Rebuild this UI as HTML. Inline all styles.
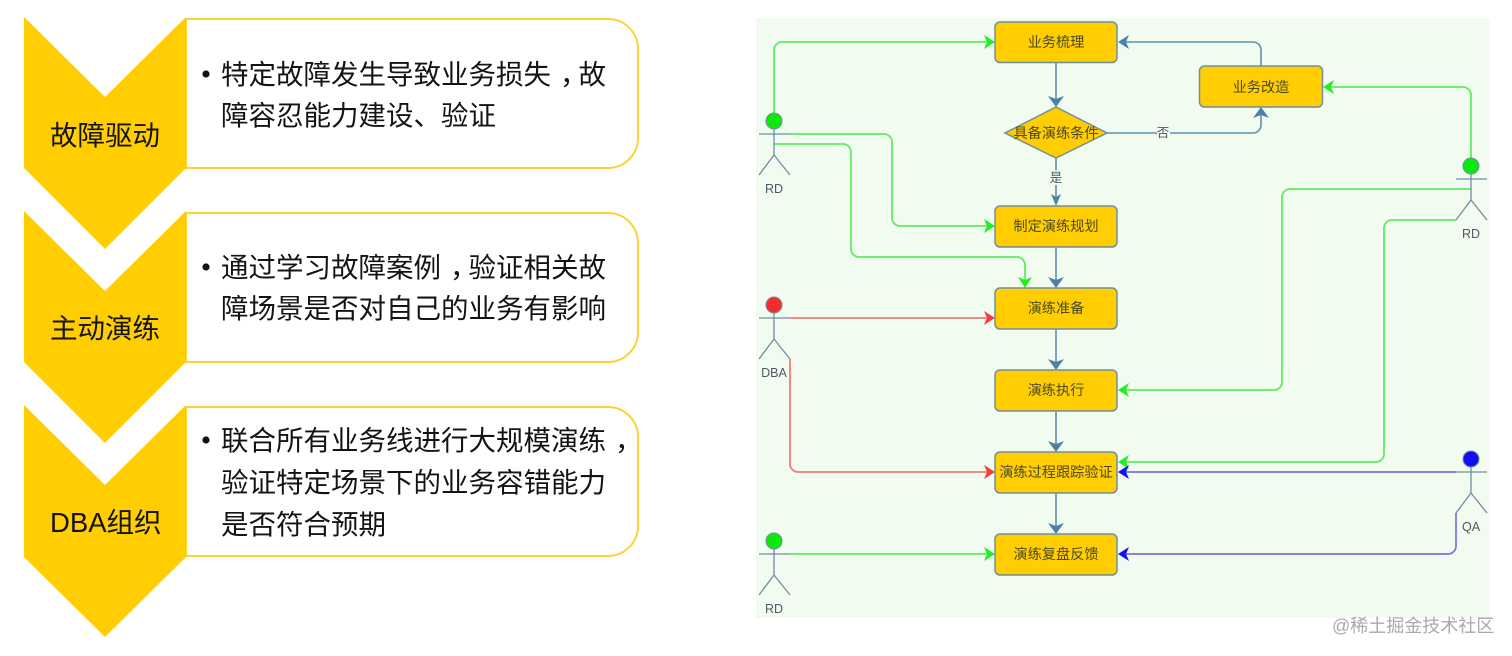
<!DOCTYPE html>
<html lang="zh">
<head>
<meta charset="utf-8">
<title>故障演练</title>
<style>
html,body{margin:0;padding:0;background:#fff;width:1512px;height:656px;overflow:hidden}
svg{display:block;filter:blur(.35px)}
text{font-family:"Liberation Sans","Noto Sans CJK SC",sans-serif}
.t{font-size:27.5px;fill:#141414}
.n{font-size:14.2px;fill:#4d4a22;text-anchor:middle}
.a{font-size:12.5px;fill:#4c5a66;text-anchor:middle}
.box{fill:#ffcd00;stroke:#6f8f9c;stroke-width:1.5}
.flow{fill:none;stroke:#5f8fad;stroke-width:1.6}
.g{fill:none;stroke:#5fec5f;stroke-width:1.8}
.actor{fill:none;stroke:#6f8ea3;stroke-width:1.3}
</style>
</head>
<body>
<svg width="1512" height="656" viewBox="0 0 1512 656" xmlns="http://www.w3.org/2000/svg">
<rect width="1512" height="656" fill="#fff"/>

<!-- left panels -->
<g fill="#fff" stroke="#fdd235" stroke-width="2">
<path d="M186 19H608a30 30 0 0 1 30 30V138a30 30 0 0 1-30 30H186Z"/>
<path d="M186 213H608a30 30 0 0 1 30 30V332a30 30 0 0 1-30 30H186Z"/>
<path d="M186 407H608a30 30 0 0 1 30 30V526a30 30 0 0 1-30 30H186Z"/>
</g>
<g fill="#ffcd00">
<path d="M24 17L105 97L186 17V168L105 249L24 168Z"/>
<path d="M24 211L105 291L186 211V362L105 443L24 362Z"/>
<path d="M24 405L105 485L186 405V557L105 637L24 557Z"/>
</g>
<g class="t">
<text class="t" x="50" y="145">故障驱动</text>
<text class="t" x="50" y="338">主动演练</text>
<text class="t" x="50" y="532">DBA组织</text>
<text class="t" x="221" y="84">特定故障发生导致业务损失<tspan dx="9">，</tspan><tspan dx="-9">故</tspan></text>
<text class="t" x="221" y="125">障容忍能力建设、验证</text>
<text class="t" x="221" y="277">通过学习故障案例<tspan dx="9">，</tspan><tspan dx="-9">验证相关故</tspan></text>
<text class="t" x="221" y="318">障场景是否对自己的业务有影响</text>
<text class="t" x="221" y="450">联合所有业务线进行大规模演练<tspan dx="9">，</tspan></text>
<text class="t" x="221" y="492">验证特定场景下的业务容错能力</text>
<text class="t" x="221" y="534">是否符合预期</text>
</g>
<g fill="#111">
<circle cx="206" cy="74" r="3.6"/>
<circle cx="206" cy="267" r="3.6"/>
<circle cx="206" cy="440" r="3.6"/>
</g>

<!-- right diagram background -->
<rect x="756" y="18" width="734" height="600" fill="#f1fbf0"/>

<!-- flow connectors -->
<g class="flow">
<path d="M1056 62V100"/>
<path d="M1056 158V170M1056 185V199"/>
<path d="M1056 247V281"/>
<path d="M1056 329V363"/>
<path d="M1056 411V445"/>
<path d="M1056 493V527"/>
<path d="M1261 66V50a8 8 0 0 0-8-8H1124"/>
<path d="M1107 133H1157M1170 133H1253a8 8 0 0 0 8-8V114"/>
</g>
<g fill="#4f80a6">
<path d="M1056 107L1048 96L1056 99L1064 96Z"/>
<path d="M1056 206L1051 194L1056 197L1061 194Z"/>
<path d="M1056 288L1048 277L1056 280L1064 277Z"/>
<path d="M1056 370L1048 359L1056 362L1064 359Z"/>
<path d="M1056 452L1048 441L1056 444L1064 441Z"/>
<path d="M1056 534L1048 523L1056 526L1064 523Z"/>
<path d="M1118 42L1129 35L1126 42L1129 49Z"/>
<path d="M1261 107L1253 118L1261 115L1269 118Z"/>
</g>

<!-- green connectors -->
<g class="g">
<path d="M774 113V50a8 8 0 0 1 8-8H988"/>
<path d="M790 134H884a8 8 0 0 1 8 8V218a8 8 0 0 0 8 8H988"/>
<path d="M774 144H843a8 8 0 0 1 8 8V249a8 8 0 0 0 8 8H1017a8 8 0 0 1 8 8V281"/>
<path d="M790 554H988"/>
<path d="M1471 158V95a8 8 0 0 0-8-8H1330"/>
<path d="M1471 189H1290a8 8 0 0 0-8 8V382a8 8 0 0 1-8 8H1124"/>
<path d="M1456 220H1392a8 8 0 0 0-8 8V454a8 8 0 0 1-8 8H1124"/>
</g>
<g fill="none" stroke="#f47a78" stroke-width="1.8">
<path d="M790 318H988"/>
<path d="M790 359V464a8 8 0 0 0 8 8H988"/>
</g>
<g fill="none" stroke="#7a6fe6" stroke-width="1.7">
<path d="M1456 472H1124"/>
<path d="M1456 513V546a8 8 0 0 1-8 8H1124"/>
</g>
<g fill="#22ee22">
<path d="M995 42L984 35L987 42L984 49Z"/>
<path d="M995 226L984 219L987 226L984 233Z"/>
<path d="M1025 288L1018 277L1025 280L1032 277Z"/>
<path d="M995 554L984 547L987 554L984 561Z"/>
<path d="M1323 87L1334 80L1331 87L1334 94Z"/>
<path d="M1118 390L1129 383L1126 390L1129 397Z"/>
<path d="M1118 462L1129 455L1126 462L1129 469Z"/>
</g>
<g fill="#f93b3b">
<path d="M995 318L984 311L987 318L984 325Z"/>
<path d="M995 472L984 465L987 472L984 479Z"/>
</g>
<g fill="#1212ee">
<path d="M1118 472L1129 465L1126 472L1129 479Z"/>
<path d="M1118 554L1129 547L1126 554L1129 561Z"/>
</g>

<!-- nodes -->
<rect class="box" x="995" y="22" width="122" height="40.500" rx="5"/>
<rect class="box" x="1199.500" y="66" width="123" height="41" rx="5"/>
<path class="box" d="M1056 107L1107 133L1056 158L1005 133Z"/>
<rect class="box" x="995" y="206" width="122" height="41" rx="5"/>
<rect class="box" x="995" y="288" width="122" height="41" rx="5"/>
<rect class="box" x="995" y="370" width="122" height="41" rx="5"/>
<rect class="box" x="995" y="452" width="122" height="41" rx="5"/>
<rect class="box" x="995" y="534" width="122" height="41" rx="5"/>

<text class="n" x="1056" y="47">业务梳理</text>
<text class="n" x="1261" y="92">业务改造</text>
<text class="n" x="1056" y="138">具备演练条件</text>
<text class="n" x="1056" y="231">制定演练规划</text>
<text class="n" x="1056" y="313">演练准备</text>
<text class="n" x="1056" y="395">演练执行</text>
<text class="n" x="1056" y="477">演练过程跟踪验证</text>
<text class="n" x="1056" y="559">演练复盘反馈</text>
<text class="a" x="1056" y="182">是</text>
<text class="a" x="1163" y="137">否</text>

<!-- actors -->
<g class="actor">
<path d="M759 134H790M774 129V155M774 155L759 175M774 155L790 175"/>
<path d="M759 318H790M774 313V339M774 339L759 359M774 339L790 359"/>
<path d="M759 554H790M774 549V575M774 575L759 595M774 575L790 595"/>
<path d="M1456 179H1487M1471 174V200M1471 200L1456 220M1471 200L1487 220"/>
<path d="M1456 472H1487M1471 467V493M1471 493L1456 513M1471 493L1487 513"/>
</g>
<g stroke="#6f8ea3" stroke-width="1">
<circle cx="774" cy="121" r="8" fill="#0be80b"/>
<circle cx="774" cy="305" r="8" fill="#f62c2c"/>
<circle cx="774" cy="541" r="8" fill="#0be80b"/>
<circle cx="1471" cy="166" r="8" fill="#0be80b"/>
<circle cx="1471" cy="459" r="8" fill="#1010ee"/>
</g>
<text class="a" x="774" y="193">RD</text>
<text class="a" x="774" y="377">DBA</text>
<text class="a" x="774" y="613">RD</text>
<text class="a" x="1471" y="238">RD</text>
<text class="a" x="1471" y="531">QA</text>

<!-- watermark -->
<text x="1332" y="632" style="font-size:18px;fill:#a9a9a9">@稀土掘金技术社区</text>
</svg>
</body>
</html>
